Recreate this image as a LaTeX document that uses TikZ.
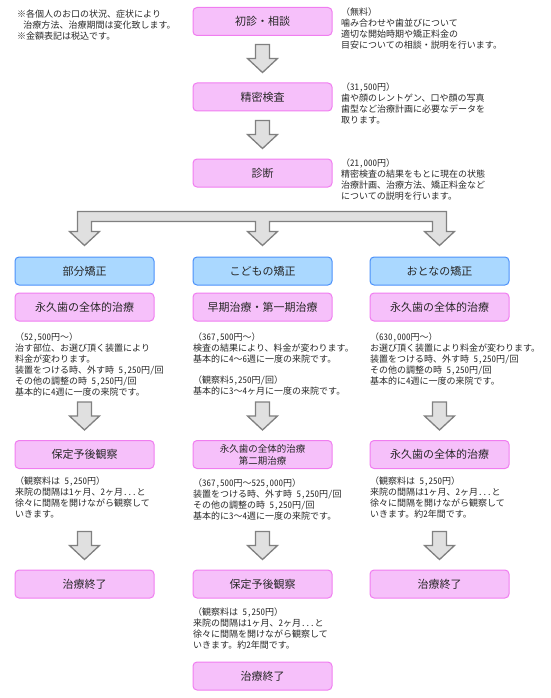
\documentclass[tikz,border=0pt]{standalone}
\usepackage{fontspec}
\setmainfont{Noto Sans CJK JP}
\usetikzlibrary{calc}

\definecolor{pinkfill}{RGB}{246,192,250}
\definecolor{pinkline}{RGB}{240,125,240}
\definecolor{bluefill}{RGB}{170,216,255}
\definecolor{blueline}{RGB}{75,145,250}
\definecolor{arrowfill}{RGB}{224,224,224}
\definecolor{arrowline}{RGB}{128,128,128}
\definecolor{inktext}{RGB}{40,40,40}

\tikzset{
  flowbox/.style={rounded corners=4pt, minimum width=139pt, minimum height=28pt,
    line width=1pt, font=\fontsize{11}{13}\selectfont, text=inktext,
    align=center, inner sep=0pt},
  pinkbox/.style={flowbox, draw=pinkline, fill=pinkfill},
  bluebox/.style={flowbox, draw=blueline, fill=bluefill},
  memo/.style={anchor=north west, align=left, inner sep=0pt,
    font=\fontsize{9}{11}\selectfont, text=inktext},
  arrowbox/.style={draw=arrowline, fill=arrowfill, line width=1.3pt, line join=miter},
}

% half-width figures
\newcommand{\hw}[1]{{\addfontfeatures{RawFeature=+hwid}#1}}
\newcommand{\hsp}{\hspace{0.5em}}

% block arrow from one box down to the next
\newcommand{\bigarrow}[2]{%
  \coordinate (tip) at ($(#1.south |- #2.north)+(0,-10)$);
  \filldraw[arrowbox] ($(tip)+(-7,-28)$) -- ($(tip)+(7,-28)$) -- ($(tip)+(7,-14)$)
    -- ($(tip)+(15,-14)$) -- (tip) -- ($(tip)+(-15,-14)$) -- ($(tip)+(-7,-14)$) -- cycle;}

\begin{document}
\begin{tikzpicture}[x=1pt, y=-1pt]
  \useasboundingbox (0,0) rectangle (550,698);

  \node[memo] (note) at (17,9.5) {※各個人のお口の状況、症状により\\\hspace{0.7em}治療方法、治療期間は変化致します。\\※金額表記は税込です。};

  % common steps
  \node[pinkbox] (b1) at (262.5,21.5) {初診・相談};
  \node[pinkbox] (b2) at (262.5,97) {精密検査};
  \node[pinkbox] (b3) at (262.5,173) {診断};
  \node[memo] (t1) at (341,7.5) {（無料）\\噛み合わせや歯並びについて\\適切な開始時期や矯正料金の\\目安についての相談・説明を行います。};
  \node[memo] (t2) at (341,82.5) {（\hw{31,500}円）\\歯や顔のレントゲン、口や顔の写真\\歯型など治療計画に必要なデータを\\取ります。};
  \node[memo] (t3) at (341,158.5) {（\hw{21,000}円）\\精密検査の結果をもとに現在の状態\\治療計画、治療方法、矯正料金など\\についての説明を行います。};
  \bigarrow{b1}{b2}
  \bigarrow{b2}{b3}

  % three courses
  \node[bluebox] (kl) at (84.5,271) {部分矯正};
  \node[bluebox] (km) at (262.5,271) {こどもの矯正};
  \node[bluebox] (kr) at (439.5,271) {おとなの矯正};
  \filldraw[arrowbox] ($(kl.north)+(-7,-45)$) -- ($(kr.north)+(7,-45)$)
    -- ($(kr.north)+(7,-25)$) -- ($(kr.north)+(15,-25)$) -- ($(kr.north)+(0,-11)$)
    -- ($(kr.north)+(-15,-25)$) -- ($(kr.north)+(-7,-25)$) -- ($(kr.north)+(-7,-35)$)
    -- ($(km.north)+(7,-35)$) -- ($(km.north)+(7,-25)$) -- ($(km.north)+(15,-25)$)
    -- ($(km.north)+(0,-11)$) -- ($(km.north)+(-15,-25)$) -- ($(km.north)+(-7,-25)$)
    -- ($(km.north)+(-7,-35)$) -- ($(kl.north)+(7,-35)$) -- ($(kl.north)+(7,-25)$)
    -- ($(kl.north)+(15,-25)$) -- ($(kl.north)+(0,-11)$) -- ($(kl.north)+(-15,-25)$)
    -- ($(kl.north)+(-7,-25)$) -- cycle;

  \node[pinkbox] (pl) at (84.5,307) {永久歯の全体的治療};
  \node[pinkbox] (pm) at (262.5,307) {早期治療・第一期治療};
  \node[pinkbox] (pr) at (439.5,307) {永久歯の全体的治療};
  \node[memo] (l1) at (15,332.5) {（\hw{52,500}円～）\\治す部位、お選び頂く装置により\\料金が変わります。\\装置をつける時、外す時\hsp\hw{5,250円/回}\\その他の調整の時\hsp\hw{5,250円/回}\\基本的に\hw{4}週に一度の来院です。};
  \node[memo] (m1) at (193,332.5) {（\hw{367,500}円～）\\検査の結果により、料金が変わります。\\基本的に\hw{4}～\hw{6}週に一度の来院です。\\[10pt]（観察料\hw{5,250円/回}）\\基本的に\hw{3}～\hw{4}ヶ月に一度の来院です。};
  \node[memo] (r1) at (370,332.5) {（\hw{630,000}円～）\\お選び頂く装置により料金が変わります。\\装置をつける時、外す時\hsp\hw{5,250円/回}\\その他の調整の時\hsp\hw{5,250円/回}\\基本的に\hw{4}週に一度の来院です。};

  \node[pinkbox] (ql) at (84.5,454.5) {保定予後観察};
  \node[pinkbox, font=\fontsize{9.5}{12}\selectfont] (qm) at (262.5,454.5) {永久歯の全体的治療\\第二期治療};
  \node[pinkbox] (qr) at (439.5,454.5) {永久歯の全体的治療};
  \bigarrow{pl}{ql}
  \bigarrow{pm}{qm}
  \bigarrow{pr}{qr}
  \node[memo] (l2) at (15,476.5) {（観察料は\hsp\hw{5,250}円）\\来院の間隔は\hw{1}ヶ月、\hw{2}ヶ月\hw{...}と\\徐々に間隔を開けながら観察して\\いきます。};
  \node[memo] (m2) at (193,478.5) {（\hw{367,500}円～\hw{525,000}円）\\装置をつける時、外す時\hsp\hw{5,250円/回}\\その他の調整の時\hsp\hw{5,250円/回}\\基本的に\hw{3}～\hw{4}週に一度の来院です。};
  \node[memo] (r2) at (370,476.5) {（観察料は\hsp\hw{5,250}円）\\来院の間隔は\hw{1}ヶ月、\hw{2}ヶ月\hw{...}と\\徐々に間隔を開けながら観察して\\いきます。約\hw{2}年間です。};

  \node[pinkbox] (rl) at (84.5,584) {治療終了};
  \node[pinkbox] (rm) at (262.5,584) {保定予後観察};
  \node[pinkbox] (rr) at (439.5,584) {治療終了};
  \bigarrow{ql}{rl}
  \bigarrow{qm}{rm}
  \bigarrow{qr}{rr}
  \node[memo] (m3) at (193,607.5) {（観察料は\hsp\hw{5,250}円）\\来院の間隔は\hw{1}ヶ月、\hw{2}ヶ月\hw{...}と\\徐々に間隔を開けながら観察して\\いきます。約\hw{2}年間です。};
  \node[pinkbox] (fin) at (262.5,676) {治療終了};
\end{tikzpicture}
\end{document}
